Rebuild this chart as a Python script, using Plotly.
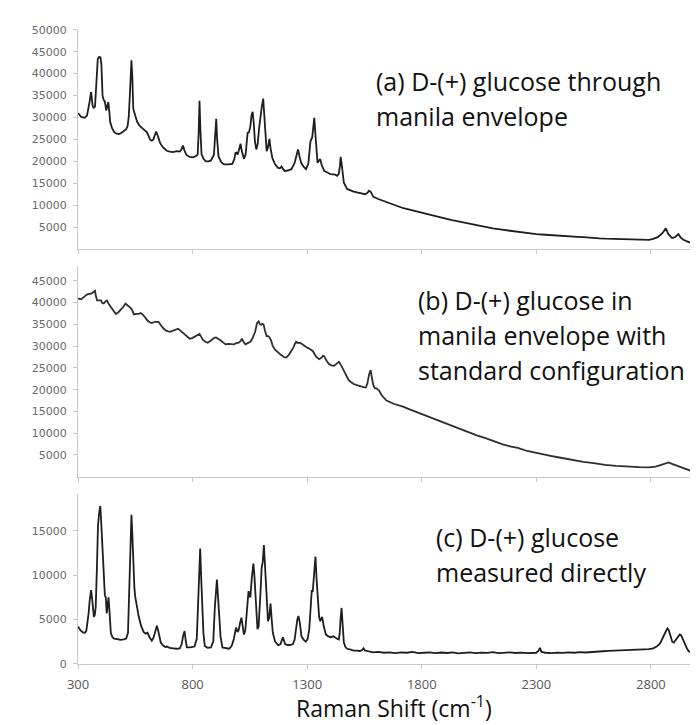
import plotly.graph_objects as go

# ---------------- data ----------------
a_x = [300, 314, 329, 339, 350, 357, 363, 368, 374, 380, 386, 392, 398, 402, 407, 412, 417, 423, 428, 432,
       437, 440, 448, 457, 468, 479, 490, 500, 510, 516, 521, 526, 530, 533, 537, 541, 549, 558, 568, 579,
       590, 601, 609, 615, 622, 629, 635, 641, 648, 658, 670, 687, 700, 715, 730, 744, 750, 758, 764, 772,
       787, 801, 815, 822, 826, 830, 834, 839, 848, 858, 870, 880, 893, 899, 903, 907, 913, 925, 937, 955,
       973, 982, 987, 992, 996, 1002, 1009, 1015, 1024, 1031, 1036, 1040, 1046, 1052, 1057, 1062, 1067, 1072, 1078, 1084,
       1090, 1096, 1102, 1108, 1113, 1118, 1123, 1129, 1135, 1140, 1148, 1160, 1173, 1181, 1188, 1195, 1202, 1215, 1231, 1245,
       1252, 1260, 1267, 1274, 1285, 1295, 1305, 1314, 1322, 1327, 1331, 1336, 1341, 1345, 1352, 1357, 1363, 1374, 1390, 1400,
       1410, 1420, 1431, 1438, 1443, 1446, 1450, 1455, 1460, 1474, 1490, 1503, 1517, 1535, 1553, 1563, 1570, 1578, 1589, 1610,
       1646, 1680, 1720, 1760, 1789, 1830, 1870, 1900, 1932, 1970, 2000, 2040, 2075, 2110, 2150, 2190, 2219, 2260, 2300, 2340,
       2362, 2400, 2425, 2450, 2480, 2505, 2530, 2550, 2575, 2600, 2625, 2648, 2675, 2700, 2725, 2750, 2775, 2791, 2810, 2830,
       2850, 2865, 2875, 2892, 2905, 2915, 2920, 2930, 2942, 2960, 2977, 2990]
a_y = [31000, 30100, 29900, 30400, 33500, 35800, 32800, 32100, 32500, 38500, 43300, 43800, 43700, 42000, 34900, 34000, 33600, 31600, 33000, 33500,
       31000, 29000, 27600, 26700, 26300, 26200, 26500, 26900, 27300, 28000, 30000, 35000, 41000, 43000, 39000, 32000, 30500, 29000, 28100, 27500,
       27100, 26600, 25600, 24900, 24700, 25000, 26000, 26800, 25800, 24200, 23200, 22400, 22200, 22100, 22300, 22200, 22600, 23600, 22500, 21500,
       21000, 20900, 21200, 21600, 26000, 33800, 27000, 21600, 20500, 20000, 20000, 20200, 21500, 26000, 29700, 25000, 21100, 19800, 19300, 19300,
       19400, 20500, 21900, 22000, 21500, 22500, 24000, 22300, 20600, 21500, 24500, 26500, 26600, 28000, 30500, 31300, 28500, 24500, 22700, 24000,
       27500, 30500, 32500, 34300, 30500, 25500, 22300, 23200, 25100, 23000, 20700, 19300, 18500, 18400, 18800, 18200, 17800, 17900, 18200, 19600,
       21200, 22700, 21000, 19600, 18700, 18200, 19500, 24500, 25500, 27500, 29900, 26000, 21500, 19700, 20200, 20500, 19200, 17800, 17400, 17100,
       17000, 17000, 16700, 17200, 19000, 21000, 19500, 16500, 15100, 13700, 13300, 13100, 12900, 12700, 12500, 12800, 13300, 13000, 11900, 11400,
       10700, 10100, 9300, 8800, 8400, 7800, 7300, 7000, 6600, 6200, 5800, 5400, 5100, 4700, 4400, 4100, 3900, 3600, 3400, 3250,
       3200, 3050, 2900, 2850, 2780, 2700, 2560, 2500, 2420, 2350, 2300, 2250, 2200, 2150, 2120, 2100, 2130, 2100, 2300, 2700,
       3600, 4700, 3500, 2500, 2700, 3300, 3400, 2600, 2100, 1700, 1350, 1300]

b_x = [300, 307, 314, 325, 340, 350, 360, 366, 374, 378, 383, 392, 400, 406, 412, 420, 426, 434, 443, 454,
       465, 476, 486, 497, 507, 518, 529, 536, 544, 555, 565, 572, 579, 590, 601, 612, 622, 636, 645, 651,
       660, 672, 686, 701, 712, 724, 737, 748, 758, 772, 787, 800, 815, 830, 837, 844, 855, 866, 880, 894,
       902, 912, 923, 934, 944, 955, 967, 980, 990, 1001, 1008, 1015, 1022, 1030, 1040, 1052, 1060, 1066, 1073, 1081,
       1088, 1094, 1100, 1105, 1110, 1116, 1123, 1130, 1136, 1143, 1150, 1160, 1173, 1185, 1198, 1209, 1220, 1231, 1240, 1246,
       1252, 1260, 1268, 1274, 1288, 1302, 1313, 1324, 1332, 1340, 1352, 1362, 1368, 1374, 1384, 1395, 1405, 1417, 1425, 1432,
       1438, 1446, 1453, 1460, 1470, 1481, 1492, 1503, 1520, 1535, 1546, 1556, 1563, 1570, 1577, 1583, 1590, 1596, 1603, 1608,
       1614, 1625, 1635, 1646, 1680, 1718, 1750, 1789, 1820, 1861, 1900, 1932, 1970, 2000, 2040, 2075, 2110, 2150, 2190, 2219,
       2260, 2300, 2362, 2400, 2450, 2505, 2550, 2600, 2648, 2700, 2750, 2791, 2820, 2845, 2865, 2877, 2895, 2915, 2934, 2960,
       2980, 2992]
b_y = [41000, 40800, 40800, 41300, 41900, 42000, 42100, 42400, 42700, 41500, 40500, 40500, 40500, 39900, 39800, 40300, 40500, 39700, 39000, 38000,
       37400, 37800, 38300, 39000, 39800, 39400, 38800, 38300, 37300, 37400, 37400, 37600, 37400, 36800, 36000, 35500, 35300, 35600, 35600, 35600,
       34900, 34100, 33500, 33300, 33500, 33800, 34000, 33500, 33000, 32300, 31700, 31900, 32400, 32800, 32200, 31500, 31000, 30800, 31300, 31900,
       32000, 31700, 31300, 30800, 30400, 30500, 30400, 30400, 30700, 30800, 31100, 31700, 31000, 30400, 30700, 31000, 31700, 32600, 33300, 35300,
       35700, 35000, 34900, 35100, 34900, 33500, 32300, 32300, 32000, 31200, 30000, 29200, 28500, 28000, 27500, 27400, 28000, 28900, 29700, 30500,
       31000, 30700, 30800, 30600, 30000, 29600, 29300, 28900, 28200, 27500, 27000, 27300, 27800, 27700, 26700, 25900, 25600, 25500, 25800, 26200,
       26400, 25800, 25000, 24400, 23200, 22200, 21700, 21300, 21000, 20700, 20600, 20500, 21500, 23500, 24500, 22500, 20800, 20300, 20300, 20000,
       19800, 18700, 18000, 17500, 16700, 16100, 15400, 14600, 13900, 13100, 12300, 11600, 10800, 10300, 9500, 8900, 8200, 7500, 6900, 6600,
       5900, 5400, 4800, 4400, 3900, 3400, 3100, 2700, 2500, 2300, 2200, 2150, 2300, 2700, 3100, 3250, 2900, 2500, 2150, 1700,
       1300, 1000]

c_x = [300, 310, 321, 330, 336, 341, 346, 351, 357, 362, 366, 369, 373, 377, 382, 387, 392, 397, 401, 407,
       412, 417, 421, 425, 429, 433, 437, 443, 450, 457, 470, 485, 500, 510, 518, 521, 524, 528, 533, 537,
       541, 546, 550, 558, 565, 575, 586, 595, 603, 612, 622, 630, 638, 644, 650, 655, 661, 670, 680, 687,
       700, 715, 730, 744, 752, 759, 765, 770, 775, 790, 808, 818, 824, 829, 833, 837, 842, 847, 853, 865,
       880, 890, 897, 902, 906, 911, 916, 922, 930, 945, 959, 970, 980, 985, 990, 996, 1001, 1007, 1013, 1018,
       1024, 1030, 1037, 1041, 1044, 1048, 1052, 1058, 1065, 1069, 1073, 1078, 1083, 1088, 1094, 1098, 1101, 1106, 1111, 1115,
       1119, 1124, 1129, 1134, 1140, 1145, 1150, 1160, 1173, 1183, 1190, 1194, 1199, 1204, 1220, 1237, 1245, 1251, 1257, 1262,
       1268, 1275, 1285, 1294, 1302, 1309, 1315, 1320, 1324, 1330, 1336, 1341, 1347, 1352, 1357, 1365, 1372, 1381, 1392, 1403,
       1414, 1424, 1432, 1438, 1442, 1446, 1450, 1454, 1460, 1467, 1474, 1490, 1503, 1517, 1530, 1540, 1546, 1552, 1565, 1589,
       1610, 1635, 1660, 1685, 1710, 1735, 1760, 1785, 1810, 1835, 1860, 1885, 1910, 1935, 1960, 1985, 2010, 2035, 2060, 2085,
       2110, 2135, 2160, 2185, 2210, 2235, 2260, 2285, 2300, 2310, 2316, 2322, 2340, 2365, 2390, 2415, 2440, 2465, 2490, 2515,
       2540, 2565, 2590, 2615, 2640, 2665, 2690, 2715, 2740, 2765, 2791, 2810, 2825, 2840, 2850, 2858, 2866, 2872, 2878, 2885,
       2893, 2900, 2908, 2918, 2926, 2932, 2940, 2949, 2958, 2966, 2975, 2985, 2995]
c_y = [4200, 3800, 3550, 3500, 3700, 4500, 5700, 7200, 8300, 7200, 6000, 5300, 5500, 6400, 10500, 15600, 17000, 17800, 16000, 12700,
       9500, 7700, 7500, 5700, 6600, 7500, 6000, 3500, 3000, 2850, 2800, 2700, 2750, 2850, 3500, 6000, 10100, 14000, 16800, 14500,
       10800, 8500, 7500, 6200, 5300, 4300, 3600, 3400, 3500, 3000, 2600, 3000, 3900, 4300, 3700, 2900, 2400, 2100, 1900, 1950,
       1800, 1750, 1700, 1750, 2200, 3200, 3700, 2600, 1850, 1850, 1950, 2800, 6400, 10500, 13000, 10000, 6400, 3500, 2000, 1800,
       1850, 2500, 6400, 8500, 9500, 7500, 5200, 3000, 1850, 1750, 1700, 2000, 2800, 3500, 4100, 3600, 3800, 4600, 5200, 4300,
       3300, 3800, 6400, 7800, 8200, 7700, 7500, 9600, 11300, 10200, 8300, 5500, 3900, 4200, 6400, 9000, 10800, 11500, 13400, 11500,
       9600, 6800, 4800, 5200, 6800, 5000, 3500, 2500, 2100, 2200, 2700, 3000, 2600, 2200, 2100, 2200, 2700, 3900, 5000, 5400,
       4600, 3100, 2700, 2500, 2800, 3900, 6500, 8300, 8100, 10500, 12100, 9500, 7200, 5300, 4800, 5300, 4300, 3300, 3100, 3000,
       3100, 2900, 2800, 2750, 3500, 5200, 6300, 4700, 2400, 1900, 1700, 1600, 1500, 1500, 1450, 1550, 1750, 1500, 1400, 1300,
       1350, 1250, 1300, 1200, 1300, 1250, 1350, 1200, 1250, 1300, 1200, 1280, 1220, 1300, 1180, 1260, 1300, 1200, 1270, 1230,
       1320, 1200, 1260, 1300, 1220, 1270, 1200, 1280, 1250, 1500, 1800, 1350, 1250, 1200, 1260, 1230, 1300, 1250, 1320, 1280,
       1350, 1380, 1420, 1470, 1500, 1550, 1520, 1580, 1600, 1620, 1650, 1750, 1950, 2300, 2900, 3400, 3700, 4000, 3800, 3200,
       2500, 2400, 2700, 3000, 3300, 3200, 2700, 2200, 1700, 1400, 1300, 1150, 1100]

x_ticks = [300, 800, 1300, 1800, 2300, 2800]
x_tick_labels = ["300", "800", "1300", "1800", "2300", "2800"]
a_yticks = [5000, 10000, 15000, 20000, 25000, 30000, 35000, 40000, 45000, 50000]
b_yticks = [5000, 10000, 15000, 20000, 25000, 30000, 35000, 40000, 45000]
c_yticks = [0, 5000, 10000, 15000]

W, H = 698, 725
AX_COL = "#c8c8c8"
TICK_FONT = dict(family="DejaVu Sans", size=11, color="#6a6a6a")
TXT_FONT = dict(family="Open Sans", size=25, color="#111111")

xdom = [60 / W, 688.6 / W]

def ydom(top_px, bot_px):
    return [(H - bot_px) / H, (H - top_px) / H]

line_style = dict(color="#1e1e1e", width=1.8)

fig = go.Figure()
fig.add_trace(go.Scatter(x=a_x, y=a_y, mode="lines", line=line_style, xaxis="x", yaxis="y", showlegend=False))
fig.add_trace(go.Scatter(x=b_x, y=b_y, mode="lines", line=dict(color="#2e2e2e", width=1.8), xaxis="x2", yaxis="y2", showlegend=False))
fig.add_trace(go.Scatter(x=c_x, y=c_y, mode="lines", line=line_style, xaxis="x3", yaxis="y3", showlegend=False))

def xax(anchor, labels):
    return dict(domain=xdom, range=[300, 3000], anchor=anchor, showgrid=False, zeroline=False,
                showline=True, linecolor=AX_COL, linewidth=1, ticks="outside", ticklen=4, tickcolor=AX_COL,
                tickvals=x_ticks, ticktext=x_tick_labels, showticklabels=labels,
                tickfont=dict(family="Open Sans", size=13, color="#595959"), ticklabelstandoff=5)

def yax(anchor, dom, rng, tv):
    return dict(domain=dom, range=rng, anchor=anchor, showgrid=False, zeroline=False,
                showline=True, linecolor=AX_COL, linewidth=1, ticks="outside", ticklen=4, tickcolor=AX_COL,
                tickvals=tv, ticktext=[str(v) for v in tv], tickfont=TICK_FONT, ticklabelstandoff=4)

fig.update_layout(
    width=W, height=H, autosize=False,
    margin=dict(l=0, r=0, t=0, b=0),
    paper_bgcolor="white", plot_bgcolor="white",
    xaxis=xax("y", False),
    yaxis=yax("x", ydom(16, 239.3), [0, 50000], a_yticks),
    xaxis2=xax("y2", False),
    yaxis2=yax("x2", ydom(256.7, 471.1), [0, 48400], b_yticks),
    xaxis3=xax("y3", True),
    yaxis3=yax("x3", ydom(488.3, 661.7), [0, 19200], c_yticks),
)

labels = [
    ("(a) D-(+) glucose through", 361, 68),
    ("manila envelope", 361, 104),
    ("(b) D-(+) glucose in", 403, 291),
    ("manila envelope with", 403, 327),
    ("standard configuration", 403, 363),
    ("(c) D-(+) glucose", 422, 533),
    ("measured directly", 422, 568),
]
for txt, px, py in labels:
    fig.add_annotation(text=txt, x=px / W, y=(H - py) / H, xref="paper", yref="paper",
                       xanchor="left", yanchor="middle", showarrow=False, font=TXT_FONT)

fig.add_annotation(text="Raman Shift (cm<sup>-1</sup>)", x=381 / W, y=0, xref="paper", yref="paper",
                   xanchor="center", yanchor="bottom", showarrow=False,
                   font=dict(family="Open Sans", size=23, color="#111111"))

fig.write_html("out.html")
